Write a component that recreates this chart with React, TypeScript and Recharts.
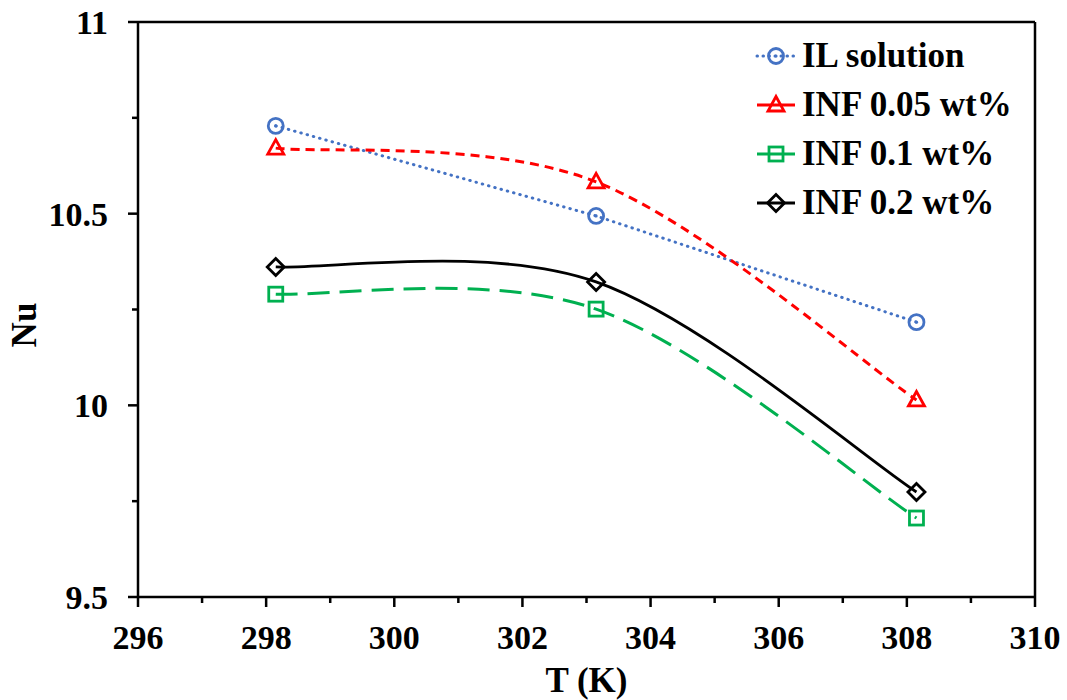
import React from "react";
import { LineChart, Line, XAxis, YAxis, ReferenceLine } from "recharts";

// Temperature (K) and Nusselt number for each fluid
const temps = [298.15, 303.15, 308.15];
const ilSolution = [10.729, 10.494, 10.217];
const inf005 = [10.671, 10.583, 10.014];
const inf01 = [10.29, 10.251, 9.706];
const inf02 = [10.361, 10.322, 9.774];

const xTicks = [296, 297, 298, 299, 300, 301, 302, 303, 304, 305, 306, 307, 308, 309, 310];
const yTicks = [9.5, 9.75, 10, 10.25, 10.5, 10.75, 11];

const data = temps.map((t, i) => ({
  t,
  il: ilSolution[i],
  a: inf005[i],
  b: inf01[i],
  c: inf02[i],
}));

const FONT = "'Liberation Serif', 'Times New Roman', serif";

// Excel-style smoothed line (Catmull-Rom bezier, tension 1/6)
const excelSmooth = (context: any) => {
  let pts: number[][] = [];
  return {
    areaStart() {},
    areaEnd() {},
    lineStart() {
      pts = [];
    },
    point(x: number, y: number) {
      pts.push([+x, +y]);
    },
    lineEnd() {
      if (!pts.length) return;
      context.moveTo(pts[0][0], pts[0][1]);
      for (let i = 0; i < pts.length - 1; i++) {
        const p0 = pts[i - 1] || pts[i];
        const p1 = pts[i];
        const p2 = pts[i + 1];
        const p3 = pts[i + 2] || p2;
        context.bezierCurveTo(
          p1[0] + (p2[0] - p0[0]) / 6,
          p1[1] + (p2[1] - p0[1]) / 6,
          p2[0] - (p3[0] - p1[0]) / 6,
          p2[1] - (p3[1] - p1[1]) / 6,
          p2[0],
          p2[1]
        );
      }
    },
  };
};

type Marker = "circle" | "triangle" | "square" | "diamond";

const series = [
  { key: "il", name: "IL solution", color: "#4472C4", dash: "0.5 6", width: 3, smooth: false, marker: "circle" as Marker },
  { key: "a", name: "INF 0.05 wt%", color: "#FF0000", dash: "9 6", width: 3, smooth: true, marker: "triangle" as Marker },
  { key: "b", name: "INF 0.1 wt%", color: "#00B050", dash: "22 10", width: 3, smooth: true, marker: "square" as Marker },
  { key: "c", name: "INF 0.2 wt%", color: "#000000", dash: undefined, width: 2.8, smooth: true, marker: "diamond" as Marker },
];

const MarkerShape = ({ cx, cy, kind, color }: { cx: number; cy: number; kind: Marker; color: string }) => {
  const sw = 2.8;
  if (kind === "circle") {
    return (
      <g>
        <circle cx={cx} cy={cy} r={7.5} fill="none" stroke={color} strokeWidth={sw} />
        <circle cx={cx} cy={cy} r={1.6} fill={color} />
      </g>
    );
  }
  if (kind === "triangle") {
    return (
      <polygon
        points={`${cx},${cy - 8.5} ${cx + 8},${cy + 6} ${cx - 8},${cy + 6}`}
        fill="none"
        stroke={color}
        strokeWidth={sw}
      />
    );
  }
  if (kind === "square") {
    return <rect x={cx - 7} y={cy - 7} width={14} height={14} fill="none" stroke={color} strokeWidth={sw} />;
  }
  return (
    <polygon
      points={`${cx},${cy - 8.5} ${cx + 8.5},${cy} ${cx},${cy + 8.5} ${cx - 8.5},${cy}`}
      fill="none"
      stroke={color}
      strokeWidth={sw}
    />
  );
};

const XTick = (props: any) => {
  const { x, y, payload } = props;
  const major = payload.value % 2 === 0;
  return (
    <g>
      <line x1={x} y1={y} x2={x} y2={y + (major ? 10 : 6)} stroke="#000" strokeWidth={2.5} />
      {major && (
        <text x={x} y={y + 52} textAnchor="middle" fontFamily={FONT} fontWeight="bold" fontSize={34} fill="#000">
          {payload.value}
        </text>
      )}
    </g>
  );
};

const YTick = (props: any) => {
  const { x, y, payload } = props;
  const major = Math.abs((payload.value * 2) % 1) < 1e-6;
  return (
    <g>
      <line x1={x} y1={y} x2={x - (major ? 10 : 6)} y2={y} stroke="#000" strokeWidth={2.5} />
      {major && (
        <text x={x - 30} y={y + 12} textAnchor="end" fontFamily={FONT} fontWeight="bold" fontSize={34} fill="#000">
          {payload.value}
        </text>
      )}
    </g>
  );
};

const LegendBox = () => (
  <div
    style={{
      position: "absolute",
      left: 755,
      top: 31,
      fontFamily: FONT,
      fontWeight: "bold",
      fontSize: 35,
      color: "#000",
      lineHeight: "49px",
      whiteSpace: "nowrap",
    }}
  >
    {series.map((s) => (
      <div key={s.key} style={{ display: "flex", alignItems: "center", height: 49 }}>
        <svg width={44} height={30} style={{ marginRight: 3 }}>
          <line
            x1={2}
            y1={15}
            x2={40}
            y2={15}
            stroke={s.color}
            strokeWidth={s.width}
            strokeLinecap={s.key === "il" ? "round" : "butt"}
            strokeDasharray={s.key === "il" ? "0.5 5.5" : undefined}
          />
          <MarkerShape cx={21} cy={15} kind={s.marker} color={s.color} />
        </svg>
        <span>{s.name}</span>
      </div>
    ))}
  </div>
);

export default function App() {
  return (
    <div style={{ position: "absolute", left: 0, top: 0, width: 1067, height: 700, background: "#fff" }}>
      <LineChart width={1067} height={700} data={data} margin={{ top: 22, right: 32, left: 0, bottom: 0 }}>
        <XAxis
          dataKey="t"
          type="number"
          domain={[296, 310]}
          ticks={xTicks}
          interval={0}
          height={103}
          tickSize={0}
          tickMargin={0}
          tickLine={false}
          tick={<XTick />}
          axisLine={{ stroke: "#000", strokeWidth: 2.5 }}
          label={{
            value: "T (K)",
            position: "insideBottom",
            offset: 8,
            style: { fontFamily: FONT, fontWeight: "bold", fontSize: 35, fill: "#000" },
          }}
        />
        <YAxis
          type="number"
          domain={[9.5, 11]}
          ticks={yTicks}
          interval={0}
          width={138}
          tickSize={0}
          tickMargin={0}
          tickLine={false}
          tick={<YTick />}
          axisLine={{ stroke: "#000", strokeWidth: 2.5 }}
          label={() => (
            <text
              x={36}
              y={325}
              transform="rotate(-90 36 325)"
              textAnchor="middle"
              fontFamily={FONT}
              fontWeight="bold"
              fontSize={35}
              fill="#000"
            >
              Nu
            </text>
          )}
        />
        <ReferenceLine y={11} stroke="#000" strokeWidth={2.5} />
        <ReferenceLine x={310} stroke="#000" strokeWidth={2.5} />
        {series.map((s) => (
          <Line
            key={s.key}
            dataKey={s.key}
            name={s.name}
            type={(s.smooth ? excelSmooth : "linear") as any}
            stroke={s.color}
            strokeWidth={s.width}
            strokeDasharray={s.dash}
            strokeLinecap={s.key === "il" ? "round" : "butt"}
            isAnimationActive={false}
            dot={(p: any) => <MarkerShape key={`${s.key}-${p.index}`} cx={p.cx} cy={p.cy} kind={s.marker} color={s.color} />}
            activeDot={false}
          />
        ))}
      </LineChart>
      <LegendBox />
    </div>
  );
}
